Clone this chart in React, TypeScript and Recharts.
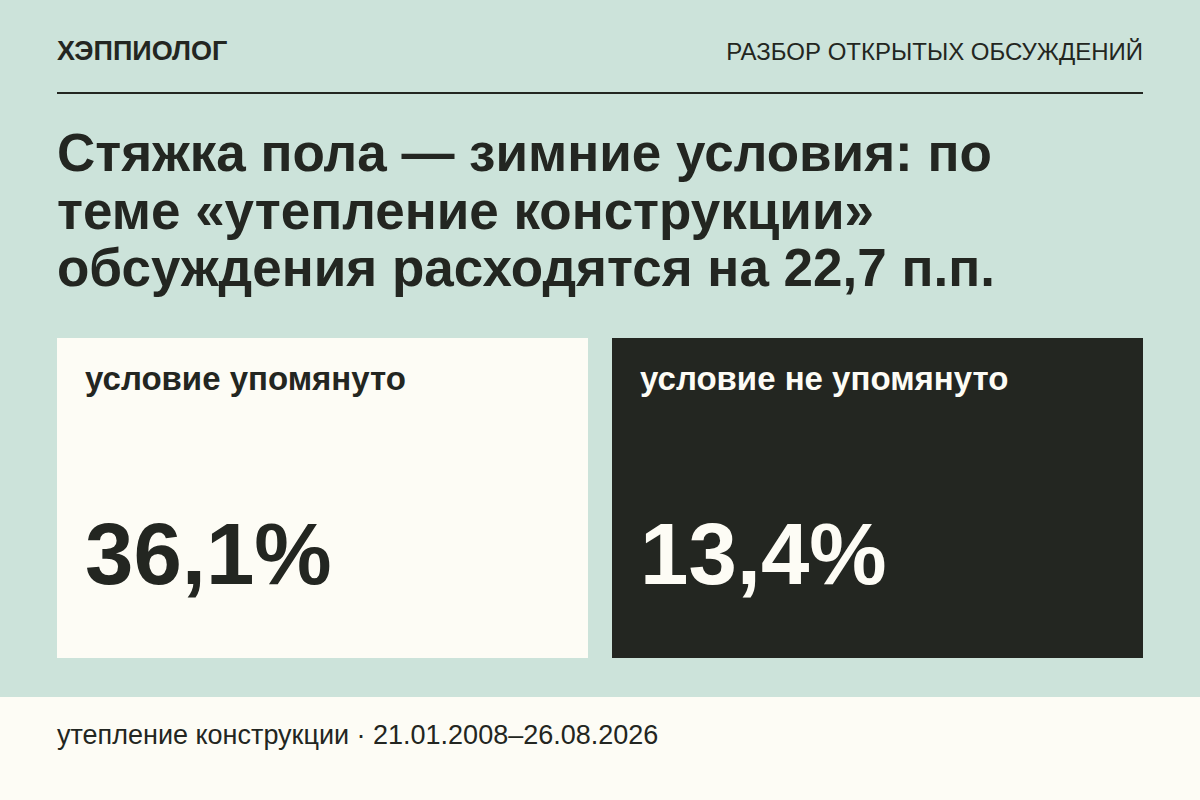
import React from 'react';
import { BarChart, Bar, XAxis, YAxis } from 'recharts';

const brand = 'ХЭППИОЛОГ';
const section = 'РАЗБОР ОТКРЫТЫХ ОБСУЖДЕНИЙ';
const titleLines = [
  'Стяжка пола — зимние условия: по',
  'теме «утепление конструкции»',
  'обсуждения расходятся на 22,7 п.п.',
];
const categories = ['условие упомянуто', 'условие не упомянуто'];
const shares = [36.1, 13.4];
const footer = 'утепление конструкции · 21.01.2008–26.08.2026';

const BG = '#cce3da';
const CREAM = '#fdfcf5';
const INK = '#232621';
const FONT = '"Liberation Sans", Arial, sans-serif';

const panelFill = [CREAM, INK];
const panelText = [INK, CREAM];

const chartData = categories.map((name, i) => ({ name, value: shares[i] }));

const fmt = (v: number) => v.toFixed(1).replace('.', ',') + '%';

// the whole band is the panel; the bar value is written inside it
const Panel = (props: any) => {
  const { x, y, width, height, index } = props;
  if (width == null) return null;
  return (
    <g>
      <rect x={x} y={y} width={width} height={height} fill={panelFill[index]} />
      <text x={x + 28} y={y + 52} fill={panelText[index]} fontSize={33} fontWeight={700} fontFamily={FONT}>
        {categories[index]}
      </text>
      <text x={x + 28} y={y + 246} fill={panelText[index]} fontSize={87} fontWeight={700} fontFamily={FONT}>
        {fmt(shares[index])}
      </text>
    </g>
  );
};

const App: React.FC = () => {
  return (
    <div style={{ position: 'fixed', left: 0, top: 0, width: 1200, height: 800, background: BG, fontFamily: FONT, color: INK, overflow: 'hidden' }}>
      <div style={{ position: 'absolute', left: 57, top: 36, fontSize: 27, fontWeight: 700, lineHeight: '30px' }}>{brand}</div>
      <div style={{ position: 'absolute', right: 57, top: 38, fontSize: 24, lineHeight: '28px' }}>{section}</div>
      <div style={{ position: 'absolute', left: 57, top: 92, width: 1086, height: 2, background: INK }} />
      <div style={{ position: 'absolute', left: 57, top: 124, fontSize: 53, fontWeight: 700, lineHeight: '57.5px' }}>
        {titleLines.map((l) => (
          <div key={l}>{l}</div>
        ))}
      </div>
      <div style={{ position: 'absolute', left: 45, top: 338 }}>
        <BarChart width={1110} height={320} data={chartData} margin={{ top: 0, right: 0, bottom: 0, left: 0 }} barCategoryGap={12}>
          <XAxis dataKey="name" hide />
          <YAxis hide domain={[0, 40]} />
          <Bar dataKey="value" isAnimationActive={false} background={(p: any) => <Panel key={p.index} {...p} />} shape={() => null} />
        </BarChart>
      </div>
      <div style={{ position: 'absolute', left: 0, top: 697, width: 1200, height: 103, background: CREAM }} />
      <div style={{ position: 'absolute', left: 57, top: 719, fontSize: 27, lineHeight: '32px' }}>{footer}</div>
    </div>
  );
};

export default App;
